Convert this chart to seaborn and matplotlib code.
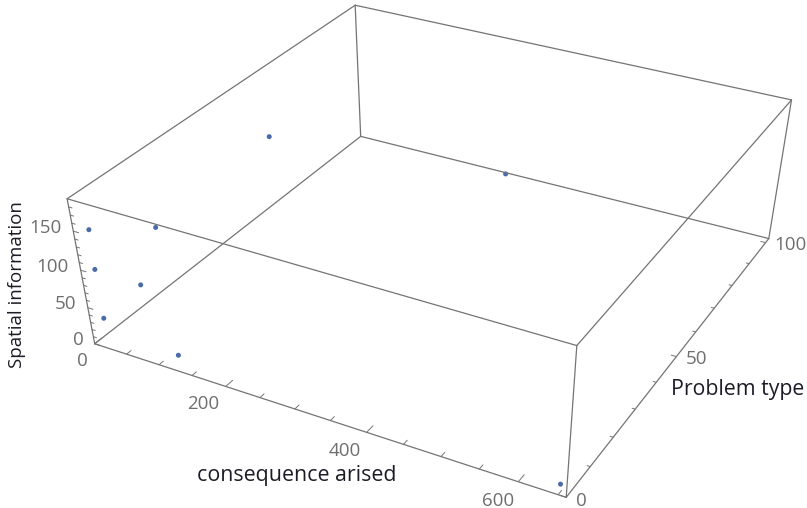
import numpy as np
import pandas as pd
import matplotlib
matplotlib.use("Agg")
import matplotlib.pyplot as plt
import seaborn as sns

# ---- data ----
consequence_arised = [25, 23, 23, 91, 127, 133, 95, 256, 652]
problem_type = [0, 0, 0, 0, 0, 0, 44, 100, 0]
spatial_information = [158, 107, 42, 105, 186, 23, 170, 5, 15]

x_range = (0, 660)
y_range = (0, 102)
z_range = (0, 190)
x_tick_values = list(range(0, 651, 50))
y_tick_values = list(range(0, 101, 10))
z_tick_values = list(range(0, 181, 10))
x_tick_labels = [0, 200, 400, 600]
y_tick_labels = [0, 50, 100]
z_tick_labels = [0, 50, 100, 150]

df = pd.DataFrame({"consequence arised": consequence_arised,
                   "Problem type": problem_type,
                   "Spatial information": spatial_information})

sns.set_theme(style="white")
plt.rcParams["font.family"] = ["Open Sans", "DejaVu Sans"]

point_color = sns.color_palette(["#4a6aa8"])[0]
edge_color = "#747474"
tick_color = "#6e6e6e"
label_color = "#1c1c28"

W, H = 807, 508
fig = plt.figure(figsize=(W / 100, H / 100), dpi=100)
ax_w, ax_h = 993, 827
cx, cy = 434, 231.5
ax = fig.add_axes([(cx - ax_w / 2) / W, (H - cy - ax_h / 2) / H, ax_w / W, ax_h / H],
                  projection="3d")
# keep the (non-square) axes box exactly as given
ax.apply_aspect = lambda position=None: None
zoom = 0.74
ax.set_proj_type("persp", focal_length=0.438 * zoom)
ax.view_init(elev=36.2, azim=-61.6)
ax.set_box_aspect((1, 1, 0.41), zoom=zoom)

ax.scatter(df["consequence arised"], df["Problem type"], df["Spatial information"],
           s=13, color=point_color, depthshade=False, edgecolors="none")

def setlim(fn, r):
    try:
        fn(r[0], r[1], view_margin=0)
    except TypeError:
        fn(r[0], r[1])

setlim(ax.set_xlim, x_range)
setlim(ax.set_ylim, y_range)
setlim(ax.set_zlim, z_range)
ax.set_xticks([])
ax.set_yticks([])
ax.set_zticks([])
ax.set_axis_off()

# box edges
xs, ys, zs = x_range, y_range, z_range
lw = 0.9
for y in ys:
    for z in zs:
        ax.plot(xs, [y, y], [z, z], color=edge_color, lw=lw)
for x in xs:
    for z in zs:
        ax.plot([x, x], ys, [z, z], color=edge_color, lw=lw)
for x in xs:
    for y in ys:
        ax.plot([x, x], [y, y], zs, color=edge_color, lw=lw)

# ticks and tick labels (drawn in data space)
x0, x1 = x_range
y0, y1 = y_range
z0, z1 = z_range
tk = dict(color=edge_color, lw=0.7)
lab = dict(color=tick_color, fontsize=13.5)
for v in x_tick_values:
    L = 2.3 if v in x_tick_labels else 1.4
    ax.plot([v, v], [y0, y0 + L], [z0, z0], **tk)
    if v in x_tick_labels:
        ax.text(v + 4, y0 - 3, z0, str(v), ha="right", va="top", **lab)
for v in y_tick_values:
    L = 7 if v in y_tick_labels else 4
    ax.plot([x1, x1 - L], [v, v], [z0, z0], **tk)
    if v in y_tick_labels:
        ax.text(x1 + 12, v, z0, str(v), ha="left", va="center", **lab)
for v in z_tick_values:
    L = 8 if v in z_tick_labels else 5
    ax.plot([x0, x0 + L], [y0, y0], [v, v], **tk)
    if v in z_tick_labels:
        ax.text(x0 - 18, y0, v, str(v), ha="right", va="center", **lab)

fig.text(17 / W, 1 - 285 / H, "Spatial information", rotation=90, ha="center", va="center",
         fontsize=13.5, color=label_color)
fig.text(297 / W, 1 - 476 / H, "consequence arised", ha="center", va="center",
         fontsize=15.4, color=label_color)
fig.text(738 / W, 1 - 389 / H, "Problem type", ha="center", va="center",
         fontsize=15.3, color=label_color)

fig.savefig("out.png", dpi=100)
